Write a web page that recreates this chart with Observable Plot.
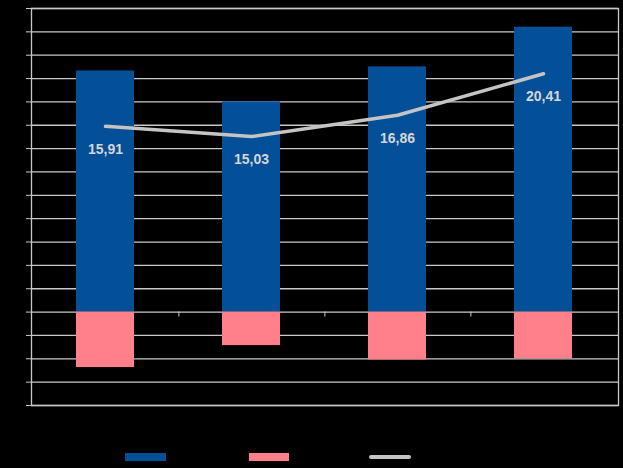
<!DOCTYPE html>
<html>
<head>
<meta charset="utf-8">
<script src="https://cdn.jsdelivr.net/npm/d3@7"></script>
<script src="https://cdn.jsdelivr.net/npm/@observablehq/plot@0.6"></script>
<style>
  html, body { margin: 0; padding: 0; background: #000; }
  #chart { width: 623px; height: 468px; position: relative; background: #000; }
  #legend { position: absolute; left: 0; top: 0; width: 623px; height: 468px; pointer-events: none; }
  .sw { position: absolute; }
</style>
</head>
<body>
<div id="chart"></div>
<script>
const categories = ["1", "2", "3", "4"];
const positiveValues = [20.65, 18.0, 21.0, 24.4];
const negativeValues = [-4.75, -2.87, -4.1, -4.0];
const lineValues = [15.91, 15.03, 16.86, 20.41];
const yTicks = d3.range(-8, 27, 2);

const rows = categories.map((c, i) => ({cat: c, pos: positiveValues[i], neg: negativeValues[i], line: lineValues[i]}));
const fmt = v => v.toFixed(2).replace(".", ",");

const W = 623, H = 430, mL = 31, mR = 5;
const halfStep = (W - mL - mR) / categories.length / 2;

const plot = Plot.plot({
  width: W,
  height: H,
  marginTop: 8,
  marginBottom: 25,
  marginLeft: mL,
  marginRight: mR,
  style: {background: "#000", fontFamily: "Liberation Sans, Arial, sans-serif"},
  x: {domain: categories, paddingInner: 0.6, paddingOuter: 0.3, axis: null},
  y: {domain: [-8, 26], axis: null},
  marks: [
    Plot.ruleY(yTicks, {stroke: "#c8c8c8", strokeWidth: 1.3}),
    Plot.axisY({ticks: yTicks, tickSize: 5, tickFormat: () => "", stroke: "#c8c8c8"}),
    Plot.barY(rows, {x: "cat", y: "pos", fill: "#034f98"}),
    Plot.barY(rows, {x: "cat", y: "neg", fill: "#ff7f8a"}),
    Plot.ruleX(categories.slice(0, -1), {x: d => d, dx: halfStep, y1: 0, y2: 0, insetBottom: -5, stroke: "#c8c8c8"}),
    Plot.frame({stroke: "#c8c8c8", strokeWidth: 1.3}),
    Plot.line(rows, {x: "cat", y: "line", stroke: "#c4c4c4", strokeWidth: 3.5, strokeLinecap: "round"}),
    Plot.text(rows, {x: "cat", y: "line", text: d => fmt(d.line), dy: 23, fill: "#d6d6d6", fontSize: 14, fontWeight: "bold"})
  ]
});
document.getElementById("chart").appendChild(plot);

const legend = document.createElement("div");
legend.id = "legend";
const swatches = [
  {left: 125, top: 453, w: 41, h: 8, bg: "#034f98", r: 0},
  {left: 249, top: 453, w: 40, h: 8, bg: "#ff7f8a", r: 0},
  {left: 369, top: 455, w: 42, h: 4, bg: "#c4c4c4", r: 2}
];
swatches.forEach(s => {
  const d = document.createElement("div");
  d.className = "sw";
  d.style.cssText = `left:${s.left}px;top:${s.top}px;width:${s.w}px;height:${s.h}px;background:${s.bg};border-radius:${s.r}px`;
  legend.appendChild(d);
});
document.getElementById("chart").appendChild(legend);
</script>
</body>
</html>
